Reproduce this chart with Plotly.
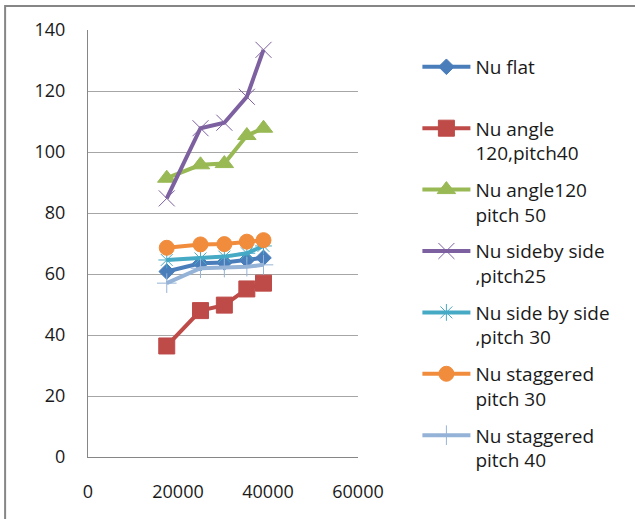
import plotly.graph_objects as go

# Reynolds number at each measuring point
reynolds = [17500, 25000, 30300, 35300, 39000]

# Nusselt number for each plate configuration
nu_flat = [60.8, 63.5, 63.8, 64.6, 65.3]
nu_angle120_p40 = [36.4, 48.0, 49.8, 55.1, 57.0]
nu_angle120_p50 = [91.4, 95.8, 96.2, 105.4, 107.8]
nu_sbs_p25 = [84.8, 107.8, 109.6, 118.1, 133.5]
nu_sbs_p30 = [64.6, 65.1, 65.7, 66.8, 69.2]
nu_stag_p30 = [68.6, 69.7, 69.8, 70.6, 71.1]
nu_stag_p40 = [57.0, 61.9, 62.1, 62.4, 63.0]

series_names = [
    "Nu flat<br> ",
    "Nu angle<br>120,pitch40",
    "Nu angle120<br>pitch 50",
    "Nu sideby side<br>,pitch25",
    "Nu side by side<br>,pitch 30",
    "Nu staggered<br>pitch 30",
    "Nu staggered<br>pitch 40",
]
series_values = [nu_flat, nu_angle120_p40, nu_angle120_p50, nu_sbs_p25,
                 nu_sbs_p30, nu_stag_p30, nu_stag_p40]
colors = ["#4A7EBB", "#BE4B48", "#98B954", "#7D60A0", "#46AAC5", "#F08C3C", "#95B3D7"]
symbols = ["diamond", "square", "triangle-up", "x-thin-open", "asterisk-open",
           "circle", "cross-thin-open"]
sizes = [12, 16, 16, 16, 14, 15, 14]

fig = go.Figure()
for i, (name, vals) in enumerate(zip(series_names, series_values)):
    fig.add_trace(go.Scatter(
        x=reynolds, y=vals, name=name, mode="lines+markers",
        legendgroup=f"g{i}",
        line=dict(color=colors[i], width=4),
        marker=dict(symbol=symbols[i], size=sizes[i], color=colors[i],
                    line=dict(color=colors[i], width=1)),
    ))

font_family = "Open Sans, Lato, sans-serif"

fig.update_layout(
    width=635, height=519,
    margin=dict(l=88, r=277, t=30, b=62),
    paper_bgcolor="white", plot_bgcolor="white",
    font=dict(family=font_family, size=18, color="#1a1a1a"),
    showlegend=True,
    legend=dict(
        x=1.22, xanchor="left", y=0.958, yanchor="top",
        valign="top", tracegroupgap=9, itemwidth=48, maxheight=600,
        font=dict(family=font_family, size=19, color="#1a1a1a"),
        bgcolor="rgba(0,0,0,0)",
    ),
    xaxis=dict(
        range=[0, 60000], tickvals=[0, 20000, 40000, 60000],
        ticktext=["0", "20000", "40000", "60000"],
        showgrid=False, zeroline=False,
        showline=True, linecolor="#868686", linewidth=1,
        ticks="", ticklabelstandoff=18,
    ),
    yaxis=dict(
        range=[0, 140], tickvals=list(range(0, 141, 20)),
        showgrid=True, gridcolor="#A6A6A6", gridwidth=1, zeroline=False,
        showline=True, linecolor="#868686", linewidth=1,
        ticks="", ticklabelstandoff=18,
    ),
    shapes=[
        dict(type="rect", xref="paper", yref="paper",
             x0=-0.307, x1=3.0, y0=-0.4, y1=1.056,
             line=dict(color="#868686", width=2), layer="below"),
    ],
)

fig.write_html("out.html")
